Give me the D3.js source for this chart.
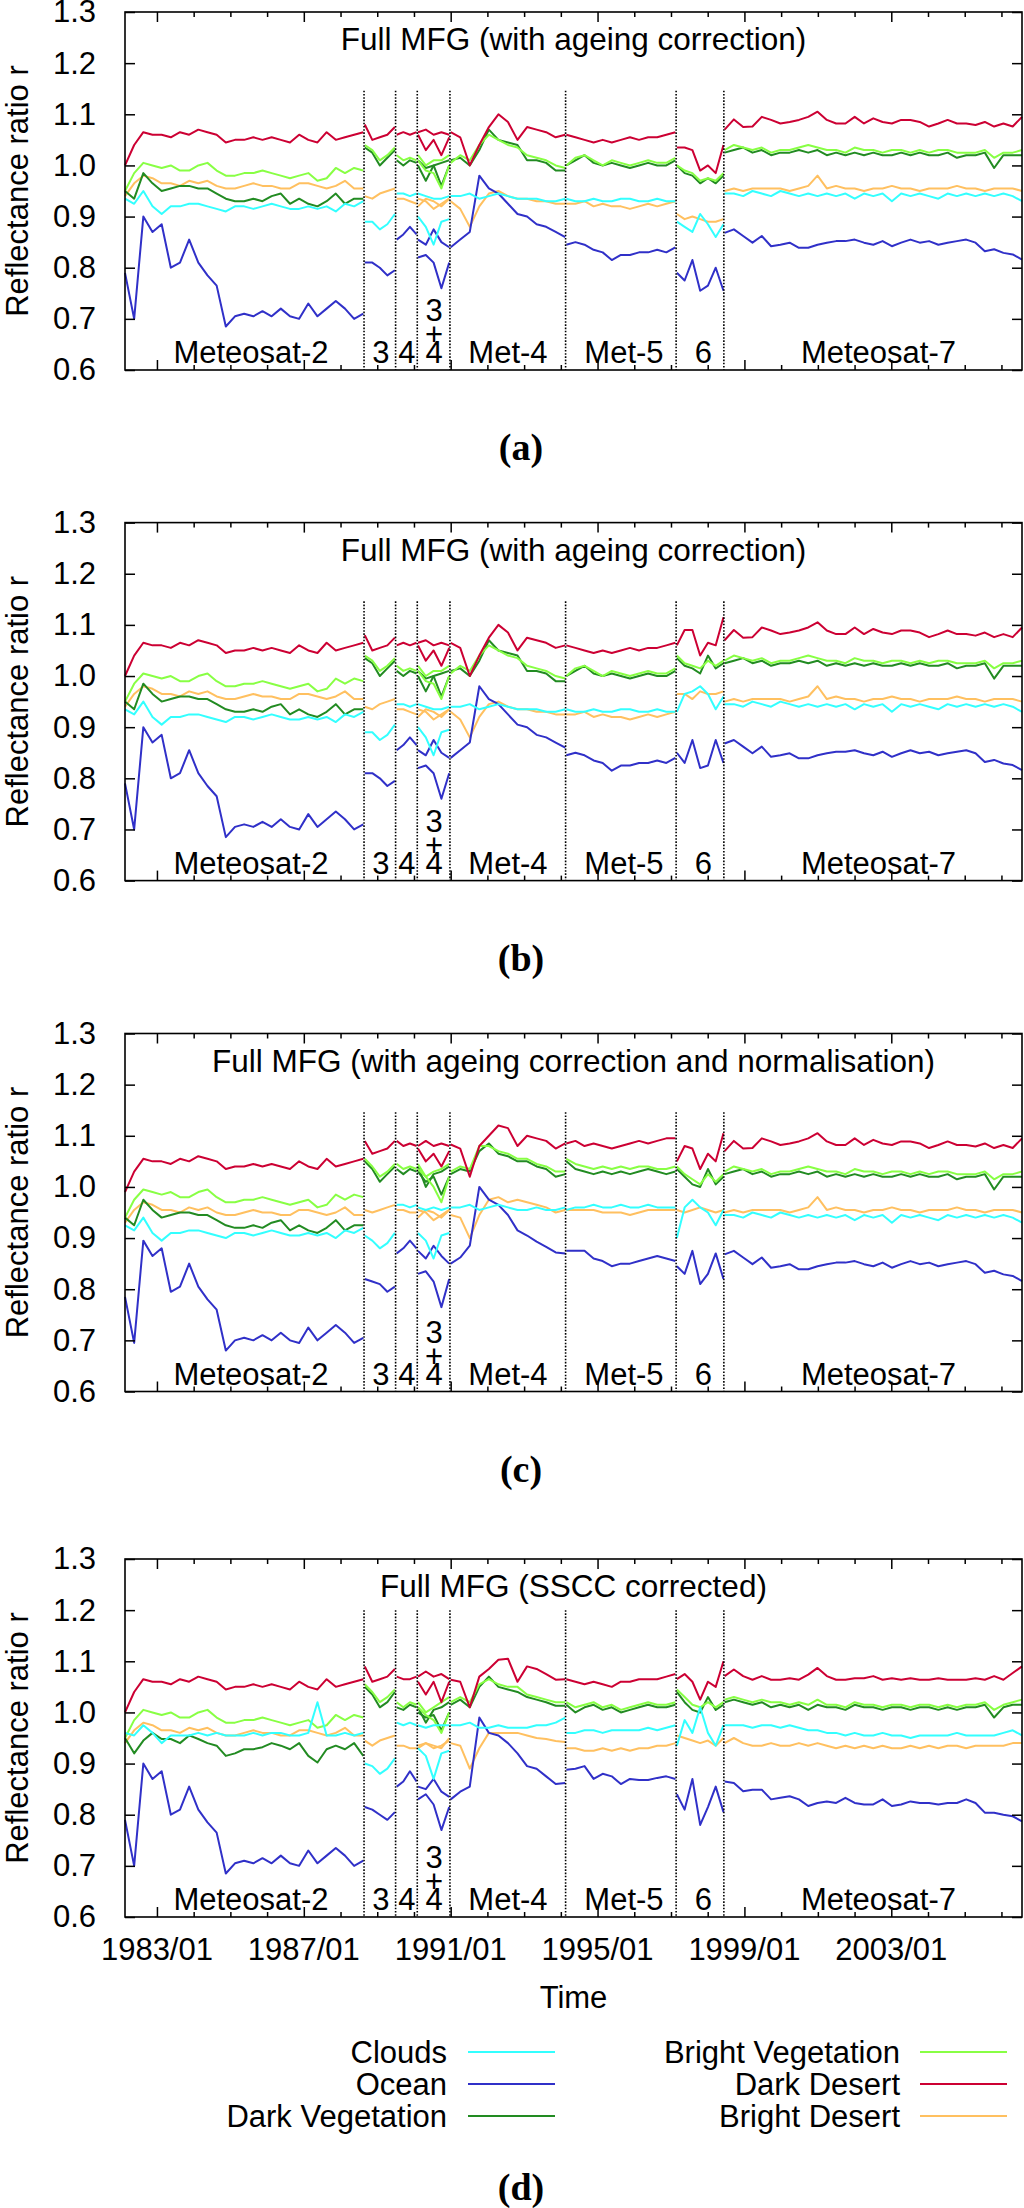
<!DOCTYPE html>
<html><head><meta charset="utf-8">
<script src="https://cdn.jsdelivr.net/npm/d3@7"></script>
<style>
body{margin:0;background:#fff}
svg text{font-family:"Liberation Sans",Arial,Helvetica,sans-serif;fill:#000}
</style>
</head><body>
<svg id="chart" width="1024" height="2208"></svg>
<script>
// ---------- categories / ticks ----------
const seriesNames = ["Clouds","Ocean","Dark Vegetation","Bright Vegetation","Dark Desert","Bright Desert"];
const seriesColors = ["#33ffff","#3030c8","#228b22","#88ff44","#cc0033","#ffc060"];
const panelTitles = ["Full MFG (with ageing correction)","Full MFG (with ageing correction)","Full MFG (with ageing correction and normalisation)","Full MFG (SSCC corrected)"];
const panelLetters = ["a","b","c","d"];
const satLabels = ["Meteosat-2","3","4","3\n+\n4","Met-4","Met-5","6","Meteosat-7"];
const transitions = [1988.64,1989.50,1990.09,1990.98,1994.13,1997.14,1998.44];
const yTicks = [0.6,0.7,0.8,0.9,1.0,1.1,1.2,1.3];
const xYears = [1983,1984,1985,1986,1987,1988,1989,1990,1991,1992,1993,1994,1995,1996,1997,1998,1999,2000,2001,2002,2003,2004,2005,2006];
const xLabelYears = [1983,1987,1991,1995,1999,2003];
const xTickLabels = ["1983/01","1987/01","1991/01","1995/01","1999/01","2003/01"];
// segments: Met-2, Met-3, Met-4, 3+4 (Met-4 part), 3+4 (Met-3 part), Met-4, Met-5, Met-6, Met-7
const segStart = [1982.13,1988.66,1989.53,1990.11,1990.11,1991.00,1994.15,1997.16,1998.46];
const segEnd   = [1988.62,1989.48,1990.07,1990.96,1990.96,1994.12,1997.12,1998.43,2006.56];

// ---------- panel (a) ----------
const a_clouds = [
 [0.935,0.925,0.95,0.92,0.905,0.92,0.92,0.925,0.925,0.92,0.915,0.91,0.92,0.92,0.915,0.92,0.925,0.92,0.915,0.915,0.92,0.915,0.92,0.91,0.925,0.92,0.93],
 [0.89,0.89,0.875,0.885,0.905],
 [0.945,0.945,0.94,0.945],
 [0.945,0.94,0.935,0.935,0.94],
 [0.90,0.88,0.845,0.89,0.895],
 [0.94,0.94,0.945,0.935,0.94,0.945,0.94,0.935,0.935,0.935,0.93,0.93,0.935],
 [0.935,0.93,0.93,0.935,0.93,0.93,0.935,0.935,0.93,0.93,0.935,0.93,0.93],
 [0.89,0.88,0.87,0.905,0.885,0.86,0.885],
 [0.945,0.945,0.94,0.95,0.945,0.94,0.95,0.945,0.94,0.945,0.94,0.945,0.94,0.945,0.935,0.945,0.94,0.945,0.93,0.945,0.94,0.945,0.94,0.935,0.945,0.94,0.945,0.94,0.945,0.94,0.945,0.94,0.93]
];
const a_ocean = [
 [0.79,0.70,0.90,0.87,0.885,0.80,0.81,0.855,0.81,0.785,0.765,0.685,0.705,0.71,0.705,0.715,0.705,0.72,0.705,0.70,0.73,0.705,0.72,0.735,0.72,0.70,0.71],
 [0.81,0.81,0.80,0.785,0.795],
 [0.855,0.865,0.88,0.865],
 [0.855,0.845,0.875,0.85,0.84],
 [0.82,0.825,0.81,0.76,0.81],
 [0.84,0.855,0.87,0.98,0.955,0.945,0.925,0.905,0.90,0.885,0.88,0.87,0.86],
 [0.845,0.85,0.845,0.835,0.83,0.815,0.825,0.825,0.83,0.83,0.835,0.83,0.84],
 [0.79,0.775,0.815,0.755,0.765,0.80,0.755],
 [0.868,0.875,0.862,0.849,0.862,0.842,0.845,0.849,0.839,0.839,0.845,0.849,0.852,0.852,0.855,0.849,0.845,0.852,0.842,0.849,0.855,0.849,0.852,0.845,0.849,0.852,0.855,0.849,0.832,0.836,0.829,0.826,0.816]
];
const a_darkveg = [
 [0.95,0.935,0.985,0.965,0.95,0.955,0.96,0.96,0.955,0.955,0.945,0.935,0.93,0.93,0.935,0.93,0.94,0.945,0.925,0.935,0.925,0.92,0.93,0.945,0.925,0.935,0.935],
 [1.035,1.025,1.0,1.015,1.03],
 [1.01,1.0,1.01,1.005],
 [1.0,0.97,1.0,1.005,1.01],
 [1.01,0.995,1.0,0.96,1.0],
 [1.01,1.015,1.0,1.03,1.07,1.05,1.045,1.04,1.01,1.01,1.005,0.99,0.99],
 [1.0,1.01,1.02,1.005,1.0,1.005,1.0,0.995,1.0,1.005,1.0,1.0,1.01],
 [1.0,0.985,0.98,0.965,0.975,0.965,0.98],
 [1.025,1.03,1.035,1.025,1.03,1.02,1.025,1.025,1.03,1.025,1.03,1.02,1.025,1.02,1.025,1.02,1.025,1.02,1.02,1.025,1.02,1.025,1.02,1.02,1.025,1.015,1.02,1.02,1.025,0.995,1.02,1.02,1.02]
];
const a_brightveg = [
 [0.95,0.985,1.005,1.0,0.995,1.0,0.99,0.99,1.0,1.005,0.99,0.98,0.98,0.985,0.985,0.99,0.985,0.98,0.975,0.98,0.985,0.97,0.975,0.995,0.985,0.995,0.99],
 [1.04,1.03,1.01,1.02,1.035],
 [1.02,1.01,1.015,1.01],
 [1.02,1.0,1.01,1.01,1.02],
 [1.01,0.99,0.985,0.955,1.0],
 [1.005,1.02,1.01,1.04,1.06,1.05,1.04,1.035,1.02,1.015,1.01,1.0,0.995],
 [1.0,1.015,1.02,1.01,1.0,1.01,1.005,1.0,1.005,1.01,1.005,1.005,1.015],
 [1.0,0.99,0.985,0.97,0.975,0.97,0.985],
 [1.03,1.04,1.035,1.03,1.035,1.025,1.03,1.03,1.035,1.04,1.035,1.03,1.03,1.025,1.035,1.03,1.03,1.025,1.03,1.03,1.025,1.03,1.025,1.03,1.03,1.025,1.025,1.025,1.03,1.015,1.025,1.025,1.03]
];
const a_darkdesert = [
 [1.00,1.04,1.065,1.06,1.06,1.055,1.065,1.06,1.07,1.065,1.06,1.045,1.05,1.05,1.055,1.05,1.055,1.05,1.045,1.06,1.05,1.045,1.065,1.05,1.055,1.06,1.065],
 [1.08,1.05,1.055,1.06,1.075],
 [1.06,1.065,1.06,1.065],
 [1.065,1.07,1.06,1.065,1.06],
 [1.06,1.03,1.05,1.02,1.055],
 [1.065,1.055,1.00,1.04,1.075,1.10,1.085,1.05,1.075,1.07,1.065,1.055,1.06],
 [1.06,1.055,1.05,1.045,1.05,1.045,1.05,1.055,1.05,1.055,1.055,1.06,1.065],
 [1.035,1.035,1.03,0.99,1.0,0.985,1.04],
 [1.07,1.09,1.075,1.076,1.095,1.089,1.082,1.085,1.089,1.095,1.105,1.089,1.082,1.082,1.095,1.082,1.092,1.085,1.082,1.089,1.089,1.085,1.076,1.082,1.089,1.082,1.082,1.079,1.085,1.076,1.082,1.076,1.095]
];
const a_brightdesert = [
 [0.94,0.965,0.98,0.975,0.965,0.965,0.96,0.97,0.965,0.97,0.96,0.955,0.955,0.96,0.965,0.96,0.96,0.955,0.955,0.965,0.965,0.96,0.955,0.96,0.97,0.955,0.955],
 [0.94,0.935,0.945,0.95,0.955],
 [0.935,0.935,0.93,0.925],
 [0.935,0.93,0.915,0.925,0.935],
 [0.92,0.935,0.93,0.92,0.935],
 [0.93,0.915,0.88,0.92,0.945,0.95,0.94,0.935,0.935,0.93,0.93,0.925,0.925],
 [0.925,0.925,0.93,0.92,0.925,0.92,0.92,0.915,0.92,0.925,0.92,0.925,0.93],
 [0.905,0.895,0.9,0.895,0.89,0.89,0.895],
 [0.95,0.955,0.95,0.955,0.955,0.955,0.955,0.95,0.955,0.96,0.98,0.955,0.96,0.955,0.955,0.95,0.955,0.955,0.96,0.955,0.955,0.95,0.955,0.955,0.955,0.96,0.955,0.955,0.95,0.955,0.955,0.955,0.95]
];

// ---------- panel (b) ----------
const b_clouds = [
 [0.935,0.925,0.95,0.92,0.905,0.92,0.92,0.925,0.925,0.92,0.915,0.91,0.92,0.92,0.915,0.92,0.925,0.92,0.915,0.915,0.92,0.915,0.92,0.91,0.925,0.92,0.93],
 [0.89,0.89,0.875,0.885,0.905],
 [0.945,0.945,0.94,0.945],
 [0.945,0.94,0.935,0.935,0.94],
 [0.90,0.88,0.845,0.89,0.895],
 [0.94,0.94,0.945,0.935,0.94,0.945,0.94,0.935,0.935,0.935,0.93,0.93,0.935],
 [0.935,0.93,0.93,0.935,0.93,0.93,0.935,0.935,0.93,0.93,0.935,0.93,0.93],
 [0.93,0.965,0.97,0.98,0.965,0.935,0.96],
 [0.945,0.945,0.94,0.95,0.945,0.94,0.95,0.945,0.94,0.945,0.94,0.945,0.94,0.945,0.935,0.945,0.94,0.945,0.93,0.945,0.94,0.945,0.94,0.935,0.945,0.94,0.945,0.94,0.945,0.94,0.945,0.94,0.93]
];
const b_ocean = [
 [0.79,0.70,0.90,0.87,0.885,0.80,0.81,0.855,0.81,0.785,0.765,0.685,0.705,0.71,0.705,0.715,0.705,0.72,0.705,0.70,0.73,0.705,0.72,0.735,0.72,0.70,0.71],
 [0.81,0.81,0.80,0.785,0.795],
 [0.855,0.865,0.88,0.865],
 [0.855,0.845,0.875,0.85,0.84],
 [0.82,0.825,0.81,0.76,0.81],
 [0.84,0.855,0.87,0.98,0.955,0.945,0.925,0.905,0.90,0.885,0.88,0.87,0.86],
 [0.845,0.85,0.845,0.835,0.83,0.815,0.825,0.825,0.83,0.83,0.835,0.83,0.84],
 [0.85,0.83,0.875,0.82,0.825,0.875,0.83],
 [0.868,0.875,0.862,0.849,0.862,0.842,0.845,0.849,0.839,0.839,0.845,0.849,0.852,0.852,0.855,0.849,0.845,0.852,0.842,0.849,0.855,0.849,0.852,0.845,0.849,0.852,0.855,0.849,0.832,0.836,0.829,0.826,0.816]
];
const b_darkveg = [
 [0.95,0.935,0.985,0.965,0.95,0.955,0.96,0.96,0.955,0.955,0.945,0.935,0.93,0.93,0.935,0.93,0.94,0.945,0.925,0.935,0.925,0.92,0.93,0.945,0.925,0.935,0.935],
 [1.035,1.025,1.0,1.015,1.03],
 [1.01,1.0,1.01,1.005],
 [1.0,0.97,1.0,1.005,1.01],
 [1.01,0.995,1.0,0.96,1.0],
 [1.01,1.015,1.0,1.03,1.07,1.05,1.045,1.04,1.01,1.01,1.005,0.99,0.99],
 [1.0,1.01,1.02,1.005,1.0,1.005,1.0,0.995,1.0,1.005,1.0,1.0,1.01],
 [1.035,1.02,1.015,1.005,1.04,1.015,1.025],
 [1.025,1.03,1.035,1.025,1.03,1.02,1.025,1.025,1.03,1.025,1.03,1.02,1.025,1.02,1.025,1.02,1.025,1.02,1.02,1.025,1.02,1.025,1.02,1.02,1.025,1.015,1.02,1.02,1.025,0.995,1.02,1.02,1.02]
];
const b_brightveg = [
 [0.95,0.985,1.005,1.0,0.995,1.0,0.99,0.99,1.0,1.005,0.99,0.98,0.98,0.985,0.985,0.99,0.985,0.98,0.975,0.98,0.985,0.97,0.975,0.995,0.985,0.995,0.99],
 [1.04,1.03,1.01,1.02,1.035],
 [1.02,1.01,1.015,1.01],
 [1.02,1.0,1.01,1.01,1.02],
 [1.01,0.99,0.985,0.955,1.0],
 [1.005,1.02,1.01,1.04,1.06,1.05,1.04,1.035,1.02,1.015,1.01,1.0,0.995],
 [1.0,1.015,1.02,1.01,1.0,1.01,1.005,1.0,1.005,1.01,1.005,1.005,1.015],
 [1.04,1.025,1.02,1.015,1.03,1.02,1.03],
 [1.03,1.04,1.035,1.03,1.035,1.025,1.03,1.03,1.035,1.04,1.035,1.03,1.03,1.025,1.035,1.03,1.03,1.025,1.03,1.03,1.025,1.03,1.025,1.03,1.03,1.025,1.025,1.025,1.03,1.015,1.025,1.025,1.03]
];
const b_darkdesert = [
 [1.00,1.04,1.065,1.06,1.06,1.055,1.065,1.06,1.07,1.065,1.06,1.045,1.05,1.05,1.055,1.05,1.055,1.05,1.045,1.06,1.05,1.045,1.065,1.05,1.055,1.06,1.065],
 [1.08,1.05,1.055,1.06,1.075],
 [1.06,1.065,1.06,1.065],
 [1.065,1.07,1.06,1.065,1.06],
 [1.06,1.03,1.05,1.02,1.055],
 [1.065,1.055,1.00,1.04,1.075,1.10,1.085,1.05,1.075,1.07,1.065,1.055,1.06],
 [1.06,1.055,1.05,1.045,1.05,1.045,1.05,1.055,1.05,1.055,1.055,1.06,1.065],
 [1.06,1.09,1.09,1.04,1.065,1.06,1.115],
 [1.07,1.09,1.075,1.076,1.095,1.089,1.082,1.085,1.089,1.095,1.105,1.089,1.082,1.082,1.095,1.082,1.092,1.085,1.082,1.089,1.089,1.085,1.076,1.082,1.089,1.082,1.082,1.079,1.085,1.076,1.082,1.076,1.095]
];
const b_brightdesert = [
 [0.94,0.965,0.98,0.975,0.965,0.965,0.96,0.97,0.965,0.97,0.96,0.955,0.955,0.96,0.965,0.96,0.96,0.955,0.955,0.965,0.965,0.96,0.955,0.96,0.97,0.955,0.955],
 [0.94,0.935,0.945,0.95,0.955],
 [0.935,0.935,0.93,0.925],
 [0.935,0.93,0.915,0.925,0.935],
 [0.92,0.935,0.93,0.92,0.935],
 [0.93,0.915,0.88,0.92,0.945,0.95,0.94,0.935,0.935,0.93,0.93,0.925,0.925],
 [0.925,0.925,0.93,0.92,0.925,0.92,0.92,0.915,0.92,0.925,0.92,0.925,0.93],
 [0.965,0.965,0.955,0.97,0.965,0.965,0.97],
 [0.95,0.955,0.95,0.955,0.955,0.955,0.955,0.95,0.955,0.96,0.98,0.955,0.96,0.955,0.955,0.95,0.955,0.955,0.96,0.955,0.955,0.95,0.955,0.955,0.955,0.96,0.955,0.955,0.95,0.955,0.955,0.955,0.95]
];

// ---------- panel (c) ----------
const c_clouds = [
 [0.925,0.915,0.94,0.91,0.895,0.91,0.91,0.915,0.915,0.91,0.905,0.9,0.91,0.91,0.905,0.91,0.915,0.91,0.905,0.905,0.91,0.905,0.91,0.9,0.915,0.91,0.92],
 [0.905,0.895,0.88,0.89,0.91],
 [0.965,0.965,0.96,0.965],
 [0.96,0.955,0.96,0.955,0.96],
 [0.91,0.895,0.86,0.905,0.91],
 [0.96,0.96,0.965,0.955,0.96,0.965,0.96,0.955,0.955,0.96,0.955,0.955,0.96],
 [0.955,0.96,0.96,0.965,0.96,0.96,0.965,0.96,0.96,0.965,0.96,0.96,0.96],
 [0.9,0.96,0.975,0.96,0.95,0.925,0.955],
 [0.945,0.945,0.94,0.95,0.945,0.94,0.95,0.945,0.94,0.945,0.94,0.945,0.94,0.945,0.935,0.945,0.94,0.945,0.93,0.945,0.94,0.945,0.94,0.935,0.945,0.94,0.945,0.94,0.945,0.94,0.945,0.94,0.93]
];
const c_ocean = [
 [0.785,0.695,0.895,0.865,0.88,0.795,0.805,0.85,0.805,0.78,0.76,0.68,0.70,0.705,0.70,0.71,0.70,0.715,0.70,0.695,0.725,0.70,0.715,0.73,0.715,0.695,0.705],
 [0.82,0.815,0.81,0.795,0.805],
 [0.87,0.88,0.895,0.88],
 [0.875,0.86,0.885,0.865,0.85],
 [0.83,0.835,0.815,0.765,0.82],
 [0.85,0.862,0.885,1.0,0.975,0.965,0.945,0.915,0.905,0.893,0.883,0.872,0.87],
 [0.875,0.875,0.875,0.86,0.855,0.845,0.85,0.85,0.855,0.86,0.865,0.86,0.855],
 [0.845,0.83,0.875,0.81,0.83,0.87,0.82],
 [0.868,0.875,0.862,0.849,0.862,0.842,0.845,0.849,0.839,0.839,0.845,0.849,0.852,0.852,0.855,0.849,0.845,0.852,0.842,0.849,0.855,0.849,0.852,0.845,0.849,0.852,0.855,0.849,0.832,0.836,0.829,0.826,0.816]
];
const c_darkveg = [
 [0.94,0.925,0.975,0.955,0.94,0.945,0.95,0.95,0.945,0.945,0.935,0.925,0.92,0.92,0.925,0.92,0.93,0.935,0.915,0.925,0.915,0.91,0.92,0.935,0.915,0.925,0.925],
 [1.05,1.035,1.01,1.025,1.04],
 [1.035,1.025,1.035,1.03],
 [1.04,1.0,1.025,1.03,1.04],
 [1.03,1.01,1.02,0.985,1.02],
 [1.025,1.035,1.03,1.07,1.085,1.065,1.06,1.05,1.05,1.04,1.035,1.02,1.025],
 [1.05,1.035,1.03,1.025,1.03,1.025,1.03,1.025,1.03,1.035,1.03,1.025,1.03],
 [1.035,1.02,1.005,1.0,1.035,1.005,1.02],
 [1.025,1.03,1.035,1.025,1.03,1.02,1.025,1.025,1.03,1.025,1.03,1.02,1.025,1.02,1.025,1.02,1.025,1.02,1.02,1.025,1.02,1.025,1.02,1.02,1.025,1.015,1.02,1.02,1.025,0.995,1.02,1.02,1.02]
];
const c_brightveg = [
 [0.94,0.975,0.995,0.99,0.985,0.99,0.98,0.98,0.99,0.995,0.98,0.97,0.97,0.975,0.975,0.98,0.975,0.97,0.965,0.97,0.975,0.96,0.965,0.985,0.975,0.985,0.98],
 [1.055,1.04,1.02,1.03,1.045],
 [1.045,1.035,1.04,1.035],
 [1.045,1.02,1.03,1.035,1.045],
 [1.035,1.02,1.0,0.97,1.02],
 [1.03,1.04,1.035,1.08,1.08,1.07,1.065,1.055,1.055,1.045,1.04,1.03,1.03],
 [1.055,1.045,1.04,1.035,1.04,1.035,1.04,1.035,1.04,1.04,1.035,1.035,1.04],
 [1.04,1.025,1.015,1.005,1.025,1.01,1.025],
 [1.03,1.04,1.035,1.03,1.035,1.025,1.03,1.03,1.035,1.04,1.035,1.03,1.03,1.025,1.035,1.03,1.03,1.025,1.03,1.03,1.025,1.03,1.025,1.03,1.03,1.025,1.025,1.025,1.03,1.015,1.025,1.025,1.03]
];
const c_darkdesert = [
 [0.99,1.03,1.055,1.05,1.05,1.045,1.055,1.05,1.06,1.055,1.05,1.035,1.04,1.04,1.045,1.04,1.045,1.04,1.035,1.05,1.04,1.035,1.055,1.04,1.045,1.05,1.055],
 [1.09,1.065,1.07,1.075,1.09],
 [1.09,1.08,1.085,1.08],
 [1.08,1.09,1.08,1.085,1.08],
 [1.075,1.05,1.065,1.04,1.07],
 [1.083,1.075,1.02,1.08,1.1,1.12,1.115,1.08,1.1,1.095,1.09,1.075,1.085],
 [1.085,1.09,1.08,1.085,1.08,1.075,1.08,1.085,1.09,1.085,1.09,1.095,1.095],
 [1.05,1.08,1.075,1.035,1.065,1.05,1.105],
 [1.07,1.09,1.075,1.076,1.095,1.089,1.082,1.085,1.089,1.095,1.105,1.089,1.082,1.082,1.095,1.082,1.092,1.085,1.082,1.089,1.089,1.085,1.076,1.082,1.089,1.082,1.082,1.079,1.085,1.076,1.082,1.076,1.095]
];
const c_brightdesert = [
 [0.93,0.955,0.97,0.965,0.955,0.955,0.95,0.96,0.955,0.96,0.95,0.945,0.945,0.95,0.955,0.95,0.95,0.945,0.945,0.955,0.955,0.95,0.945,0.95,0.96,0.945,0.945],
 [0.955,0.95,0.955,0.96,0.965],
 [0.955,0.955,0.95,0.95],
 [0.955,0.95,0.935,0.945,0.955],
 [0.94,0.955,0.95,0.94,0.955],
 [0.945,0.94,0.9,0.945,0.975,0.98,0.97,0.975,0.97,0.965,0.96,0.95,0.955],
 [0.955,0.955,0.955,0.955,0.95,0.95,0.95,0.945,0.95,0.955,0.955,0.955,0.955],
 [0.955,0.95,0.955,0.96,0.955,0.95,0.955],
 [0.95,0.955,0.95,0.955,0.955,0.955,0.955,0.95,0.955,0.96,0.98,0.955,0.96,0.955,0.955,0.95,0.955,0.955,0.96,0.955,0.955,0.95,0.955,0.955,0.955,0.96,0.955,0.955,0.95,0.955,0.955,0.955,0.95]
];

// ---------- panel (d) ----------
const d_clouds = [
 [0.96,0.955,0.975,0.96,0.94,0.955,0.955,0.955,0.96,0.955,0.96,0.955,0.955,0.955,0.96,0.955,0.96,0.96,0.955,0.955,0.96,1.02,0.955,0.955,0.96,0.955,0.96],
 [0.9,0.895,0.88,0.89,0.91],
 [0.98,0.975,0.98,0.975],
 [0.975,0.97,0.975,0.975,0.975],
 [0.93,0.915,0.87,0.92,0.925],
 [0.975,0.975,0.98,0.97,0.97,0.975,0.97,0.97,0.97,0.975,0.975,0.98,0.99],
 [0.96,0.96,0.965,0.965,0.96,0.965,0.965,0.965,0.965,0.97,0.965,0.97,0.975],
 [0.935,0.985,0.96,1.01,0.96,0.935,0.975],
 [0.975,0.975,0.975,0.97,0.975,0.975,0.97,0.975,0.97,0.965,0.965,0.96,0.96,0.955,0.96,0.955,0.955,0.96,0.955,0.955,0.95,0.955,0.955,0.955,0.955,0.96,0.955,0.955,0.955,0.955,0.96,0.965,0.955]
];
const d_ocean = [
 [0.79,0.70,0.90,0.87,0.885,0.80,0.81,0.855,0.81,0.785,0.765,0.685,0.705,0.71,0.705,0.715,0.705,0.72,0.705,0.70,0.73,0.705,0.72,0.735,0.72,0.70,0.71],
 [0.815,0.81,0.80,0.79,0.805],
 [0.855,0.865,0.885,0.865],
 [0.855,0.85,0.87,0.845,0.835],
 [0.83,0.84,0.82,0.77,0.815],
 [0.83,0.845,0.855,0.99,0.96,0.955,0.94,0.92,0.895,0.89,0.875,0.86,0.862],
 [0.888,0.89,0.895,0.87,0.88,0.875,0.86,0.87,0.868,0.868,0.872,0.875,0.87],
 [0.84,0.81,0.87,0.78,0.815,0.855,0.805],
 [0.865,0.862,0.846,0.849,0.849,0.83,0.833,0.836,0.83,0.817,0.823,0.826,0.823,0.833,0.823,0.82,0.82,0.83,0.817,0.82,0.826,0.823,0.823,0.82,0.823,0.823,0.83,0.823,0.804,0.804,0.8,0.797,0.787]
];
const d_darkveg = [
 [0.95,0.92,0.945,0.96,0.948,0.948,0.94,0.955,0.948,0.94,0.935,0.915,0.92,0.928,0.928,0.932,0.94,0.935,0.928,0.94,0.915,0.902,0.928,0.935,0.928,0.94,0.915],
 [1.05,1.035,1.01,1.02,1.04],
 [1.01,1.005,1.015,1.01],
 [1.01,0.98,1.005,1.01,1.02],
 [1.0,0.99,0.995,0.965,1.0],
 [1.015,1.025,1.01,1.05,1.07,1.05,1.045,1.04,1.03,1.025,1.02,1.013,1.013],
 [1.015,1.0,1.01,1.015,1.005,1.01,1.0,1.005,1.01,1.015,1.01,1.01,1.015],
 [1.04,1.02,1.005,1.0,1.03,1.005,1.015],
 [1.02,1.025,1.02,1.015,1.02,1.01,1.015,1.01,1.015,1.005,1.015,1.01,1.01,1.005,1.015,1.01,1.01,1.005,1.01,1.01,1.005,1.01,1.01,1.005,1.01,1.005,1.01,1.01,1.015,0.99,1.01,1.015,1.015]
];
const d_brightveg = [
 [0.95,0.985,1.005,1.0,0.995,1.0,0.99,0.99,1.0,1.005,0.99,0.98,0.98,0.985,0.985,0.99,0.985,0.98,0.975,0.98,0.985,0.97,0.975,0.995,0.985,0.995,0.99],
 [1.055,1.04,1.02,1.03,1.045],
 [1.02,1.01,1.02,1.015],
 [1.02,1.0,1.01,1.02,1.03],
 [1.01,0.995,0.985,0.96,1.0],
 [1.02,1.03,1.02,1.055,1.065,1.055,1.05,1.05,1.035,1.03,1.025,1.02,1.02],
 [1.02,1.01,1.015,1.02,1.01,1.015,1.005,1.01,1.015,1.02,1.015,1.015,1.02],
 [1.045,1.03,1.015,1.01,1.02,1.01,1.02],
 [1.025,1.03,1.025,1.02,1.025,1.02,1.02,1.015,1.02,1.015,1.025,1.015,1.015,1.01,1.02,1.015,1.015,1.01,1.015,1.015,1.01,1.015,1.015,1.01,1.015,1.01,1.015,1.015,1.02,1.005,1.015,1.02,1.025]
];
const d_darkdesert = [
 [1.00,1.04,1.065,1.06,1.06,1.055,1.065,1.06,1.07,1.065,1.06,1.045,1.05,1.05,1.055,1.05,1.055,1.05,1.045,1.06,1.05,1.045,1.065,1.05,1.055,1.06,1.065],
 [1.09,1.06,1.065,1.07,1.085],
 [1.07,1.065,1.065,1.07],
 [1.07,1.08,1.07,1.075,1.065],
 [1.06,1.035,1.06,1.02,1.06],
 [1.064,1.06,1.01,1.07,1.085,1.103,1.105,1.06,1.09,1.085,1.075,1.064,1.065],
 [1.065,1.06,1.055,1.06,1.055,1.05,1.06,1.06,1.065,1.065,1.065,1.07,1.075],
 [1.065,1.075,1.06,1.025,1.06,1.05,1.1],
 [1.071,1.084,1.071,1.064,1.071,1.064,1.064,1.067,1.064,1.074,1.087,1.071,1.064,1.064,1.067,1.067,1.071,1.064,1.067,1.064,1.067,1.064,1.064,1.067,1.064,1.064,1.064,1.067,1.064,1.071,1.064,1.077,1.09]
];
const d_brightdesert = [
 [0.94,0.965,0.98,0.975,0.965,0.965,0.96,0.97,0.965,0.97,0.96,0.955,0.955,0.96,0.965,0.96,0.96,0.955,0.955,0.965,0.965,0.96,0.955,0.96,0.97,0.955,0.955],
 [0.945,0.935,0.945,0.95,0.955],
 [0.935,0.935,0.93,0.93],
 [0.935,0.94,0.93,0.935,0.945],
 [0.93,0.94,0.935,0.93,0.95],
 [0.94,0.935,0.89,0.93,0.96,0.96,0.96,0.96,0.955,0.95,0.948,0.944,0.942],
 [0.93,0.93,0.925,0.925,0.93,0.925,0.93,0.925,0.93,0.93,0.935,0.935,0.94],
 [0.955,0.95,0.945,0.94,0.945,0.935,0.95],
 [0.94,0.95,0.94,0.935,0.935,0.94,0.935,0.935,0.94,0.935,0.94,0.935,0.93,0.935,0.93,0.935,0.93,0.935,0.93,0.93,0.935,0.93,0.935,0.93,0.935,0.935,0.93,0.935,0.935,0.935,0.935,0.94,0.94]
];

// ---------- layout (positions & styles) ----------
const L = {
  left:125, right:1022, ph:358,
  tops:[12,522.6,1033.5,1559],
  dotTop:[1.146,1.146,1.146,1.2],
  satLabelT:[1985.56,1989.10,1989.81,1990.55,1992.56,1995.72,1997.88,2002.65],
  font:31
};
const panelData = [
  [a_clouds,a_ocean,a_darkveg,a_brightveg,a_darkdesert,a_brightdesert],
  [b_clouds,b_ocean,b_darkveg,b_brightveg,b_darkdesert,b_brightdesert],
  [c_clouds,c_ocean,c_darkveg,c_brightveg,c_darkdesert,c_brightdesert],
  [d_clouds,d_ocean,d_darkveg,d_brightveg,d_darkdesert,d_brightdesert]
];
const drawOrder = [5,2,3,4,1,0];

const svg = d3.select("#chart");
const x = d3.scaleLinear().domain([1982.13,2006.56]).range([L.left,L.right]);

function segPoints(vals, si){
  const n = vals.length, t0 = segStart[si], t1 = segEnd[si];
  return vals.map((v,j)=>({t: t0 + (n>1 ? j*(t1-t0)/(n-1) : 0), v}));
}

panelData.forEach((series, p) => {
  const top = L.tops[p], bottom = top + L.ph;
  const y = d3.scaleLinear().domain([0.6,1.3]).range([bottom, top]);
  const g = svg.append("g");
  const line = d3.line().x(d=>x(d.t)).y(d=>y(d.v));

  // series lines
  drawOrder.forEach(k => {
    series[k].forEach((vals, si) => {
      g.append("path").attr("d", line(segPoints(vals, si)))
        .attr("fill","none").attr("stroke", seriesColors[k])
        .attr("stroke-width",2).attr("stroke-linejoin","round");
    });
  });

  // satellite transitions
  transitions.forEach(t => {
    g.append("line").attr("x1",x(t)).attr("x2",x(t))
      .attr("y1",y(L.dotTop[p])).attr("y2",bottom)
      .attr("stroke","#000").attr("stroke-width",1.6).attr("stroke-dasharray","1.6,1.6");
  });

  // satellite labels
  satLabels.forEach((s,i) => {
    const parts = s.split("\n");
    const offs = parts.length === 3 ? [49,25,7] : [7];
    parts.forEach((txt,j) => {
      g.append("text").attr("x",x(L.satLabelT[i])).attr("y",bottom-offs[j])
        .attr("text-anchor","middle").attr("font-size",L.font).text(txt);
    });
  });

  // axes (inward ticks)
  const yl = g.append("g").attr("transform",`translate(${L.left},0)`)
    .call(d3.axisLeft(y).tickValues(yTicks).tickSize(-10).tickPadding(29).tickFormat(d3.format(".1f")));
  const yr = g.append("g").attr("transform",`translate(${L.right},0)`)
    .call(d3.axisRight(y).tickValues(yTicks).tickSize(-10).tickFormat(""));
  const xb = g.append("g").attr("transform",`translate(0,${bottom})`)
    .call(d3.axisBottom(x).tickValues(xYears).tickSize(-10).tickFormat(""));
  const xt = g.append("g").attr("transform",`translate(0,${top})`)
    .call(d3.axisTop(x).tickValues(xYears).tickSize(-10).tickFormat(""));
  [yl,yr,xb,xt].forEach(a => { a.select(".domain").remove(); a.selectAll(".tick line").attr("stroke","#000").attr("stroke-width",1.5); });
  xb.selectAll(".tick line").attr("y2", d => xLabelYears.includes(d) ? -10 : -5);
  xt.selectAll(".tick line").attr("y2", d => xLabelYears.includes(d) ? 10 : 5);
  yl.selectAll(".tick text").attr("font-size",L.font).attr("font-family","Liberation Sans, Arial, sans-serif").attr("fill","#000");

  // frame
  g.append("rect").attr("x",L.left).attr("y",top).attr("width",L.right-L.left).attr("height",L.ph)
    .attr("fill","none").attr("stroke","#000").attr("stroke-width",1.6);

  // title
  g.append("text").attr("x",(L.left+L.right)/2).attr("y",top+38)
    .attr("text-anchor","middle").attr("font-size",31.5).text(panelTitles[p]);

  // y label
  g.append("text").attr("transform",`translate(28,${(top+bottom)/2}) rotate(-90)`)
    .attr("text-anchor","middle").attr("font-size",L.font).text("Reflectance ratio r");

  // x tick labels (bottom panel only)
  if (p === 3) {
    xLabelYears.forEach((yr_,i) => {
      g.append("text").attr("x",x(yr_)).attr("y",bottom+43).attr("text-anchor","middle")
        .attr("font-size",L.font).text(xTickLabels[i]);
    });
    g.append("text").attr("x",(L.left+L.right)/2).attr("y",bottom+91).attr("text-anchor","middle")
      .attr("font-size",L.font).text("Time");
  }

  // panel letter
  const lt = g.append("text").attr("x",521).attr("y", p===3 ? 2200 : bottom+90)
    .attr("text-anchor","middle").attr("font-size",38)
    .style("font-family","'Liberation Serif','Times New Roman',serif").attr("font-weight","bold");
  lt.text("(" + panelLetters[p] + ")");
});

// legend
const leg = svg.append("g");
seriesNames.forEach((name,i) => {
  const col = Math.floor(i/3), row = i%3;
  const tx = col===0 ? 447 : 900, lx = col===0 ? 468 : 920;
  const ly = 2052 + row*32;
  leg.append("text").attr("x",tx).attr("y",ly+11).attr("text-anchor","end").attr("font-size",L.font).text(name);
  leg.append("line").attr("x1",lx).attr("x2",lx+87).attr("y1",ly).attr("y2",ly)
    .attr("stroke",seriesColors[i]).attr("stroke-width",2);
});
</script>
</body></html>
